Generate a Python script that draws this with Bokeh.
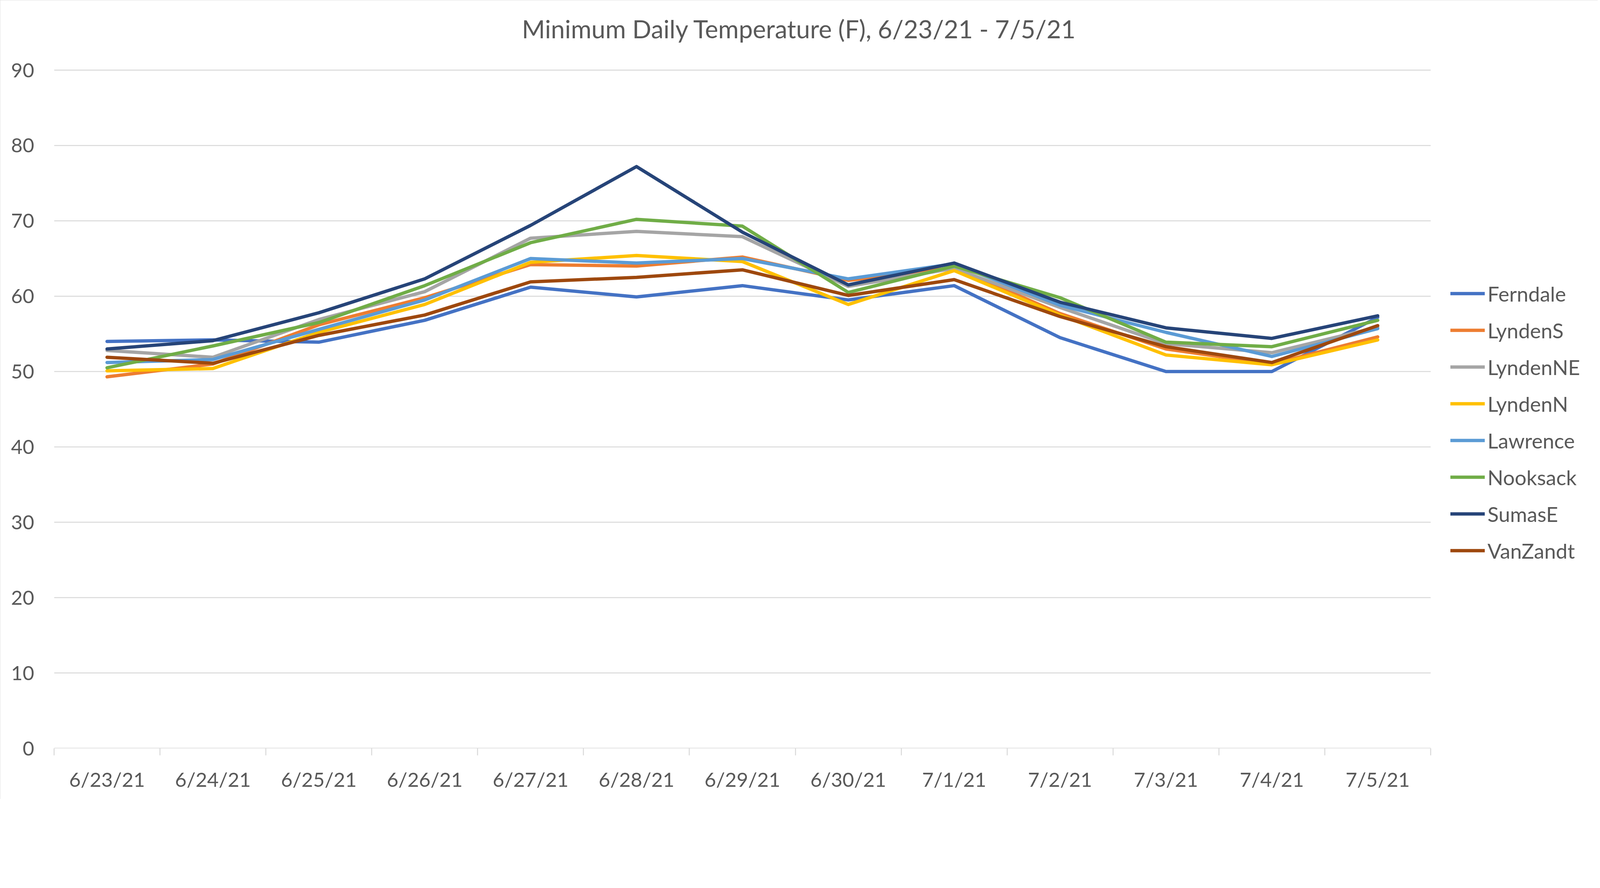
from bokeh.plotting import figure
from bokeh.models import (Legend, LegendItem, FixedTicker, Range1d, Label)
from bokeh.embed import file_html
from bokeh.resources import INLINE

dates = ["6/23/21", "6/24/21", "6/25/21", "6/26/21", "6/27/21", "6/28/21", "6/29/21",
         "6/30/21", "7/1/21", "7/2/21", "7/3/21", "7/4/21", "7/5/21"]

ferndale = [54.0, 54.2, 53.9, 56.8, 61.2, 59.9, 61.4, 59.5, 61.4, 54.5, 50.0, 50.0, 57.2]
lyndens = [49.3, 51.0, 56.2, 59.8, 64.2, 64.0, 65.2, 62.1, 63.8, 57.7, 53.0, 51.0, 54.6]
lyndenne = [52.8, 51.9, 56.9, 60.6, 67.7, 68.6, 67.9, 61.3, 63.7, 58.5, 53.7, 52.5, 55.9]
lyndenn = [50.1, 50.4, 55.2, 58.9, 64.5, 65.4, 64.6, 58.9, 63.4, 57.5, 52.2, 50.9, 54.2]
lawrence = [51.2, 51.6, 55.6, 59.5, 65.0, 64.4, 65.0, 62.3, 64.3, 58.8, 55.2, 52.0, 55.7]
nooksack = [50.5, 53.4, 56.5, 61.4, 67.1, 70.2, 69.3, 60.5, 64.0, 59.8, 53.9, 53.3, 56.8]
sumase = [53.0, 54.1, 57.8, 62.3, 69.4, 77.2, 68.5, 61.5, 64.4, 59.2, 55.8, 54.4, 57.4]
vanzandt = [51.9, 51.1, 54.8, 57.5, 61.9, 62.5, 63.5, 60.1, 62.2, 57.3, 53.3, 51.2, 56.1]

series_names = ["Ferndale", "LyndenS", "LyndenNE", "LyndenN", "Lawrence", "Nooksack", "SumasE", "VanZandt"]
series_values = [ferndale, lyndens, lyndenne, lyndenn, lawrence, nooksack, sumase, vanzandt]
colors = ["#4472C4", "#ED7D31", "#A5A5A5", "#FFC000", "#5B9BD5", "#70AD47", "#264478", "#9E480E"]

y_ticks = list(range(0, 100, 10))
title_text = "Minimum Daily Temperature (F), 6/23/21 - 7/5/21"
TEXT = "#595959"
GRID = "#D9D9D9"
FONT = "Lato"

n = len(dates)
x_lo, x_hi = -0.5, n - 0.5          # category band of the chart
W, H = 4090, 2045
LEFT, RIGHT, TOP, BOTTOM = 138, 10, 10, 130
band_px = 3524                      # pixel width of the category band
px_per_x = band_px / (x_hi - x_lo)
px_per_y = 1736 / 90.0
x_end = x_hi + (W - LEFT - RIGHT - band_px) / px_per_x
y_end = (H - TOP - BOTTOM) / px_per_y

p = figure(width=W, height=H, output_backend="svg", toolbar_location=None,
           x_range=Range1d(x_lo, x_end), y_range=Range1d(0, y_end),
           min_border_left=LEFT, min_border_right=RIGHT, min_border_top=TOP, min_border_bottom=BOTTOM)
p.outline_line_color = None
p.background_fill_color = "white"
p.border_fill_color = "white"
p.styles = {"outline": "3px solid #D9D9D9", "outline-offset": "-3px"}

# horizontal gridlines and the category axis line, limited to the category band
grid_y = y_ticks[1:]
p.segment(x0=[x_lo] * len(grid_y), x1=[x_hi] * len(grid_y), y0=grid_y, y1=grid_y,
          line_color=GRID, line_width=2.5)
p.segment(x0=[x_lo], x1=[x_hi], y0=[0], y1=[0], line_color=GRID, line_width=3)

xs = list(range(n))
renderers = []
for name, vals, c in zip(series_names, series_values, colors):
    r = p.line(xs, vals, line_color=c, line_width=8.5, line_join="round", line_cap="round")
    renderers.append(r)

# x axis
xa = p.xaxis[0]
xa.ticker = FixedTicker(ticks=xs, minor_ticks=[i - 0.5 for i in range(n + 1)])
xa.major_label_overrides = {i: d for i, d in enumerate(dates)}
xa.major_tick_line_color = None
xa.major_tick_out = 0
xa.major_tick_in = 0
xa.minor_tick_line_color = GRID
xa.minor_tick_line_width = 2.5
xa.minor_tick_out = 18
xa.minor_tick_in = 0
xa.axis_line_color = None
xa.major_label_text_font = FONT
xa.major_label_text_font_size = "51px"
xa.major_label_text_color = TEXT
xa.major_label_standoff = 30

# y axis
ya = p.yaxis[0]
ya.ticker = FixedTicker(ticks=y_ticks)
ya.axis_line_color = None
ya.major_tick_line_color = None
ya.minor_tick_line_color = None
ya.major_label_text_font = FONT
ya.major_label_text_font_size = "51px"
ya.major_label_text_color = TEXT
ya.major_label_standoff = 45

p.xgrid.grid_line_color = None
p.ygrid.grid_line_color = None

# title
title_x = (2046 - LEFT) / px_per_x + x_lo
title_y = 90 + (179 - 73) / px_per_y
p.add_layout(Label(x=title_x, y=title_y, text=title_text, text_align="center",
                   text_baseline="middle", text_font=FONT, text_font_size="64px",
                   text_color=TEXT))

legend = Legend(items=[LegendItem(label=nm, renderers=[r]) for nm, r in zip(series_names, renderers)],
                location=(3575, 474), orientation="vertical")
legend.border_line_color = None
legend.background_fill_alpha = 0
legend.label_text_font = FONT
legend.label_text_font_size = "53px"
legend.label_text_color = TEXT
legend.glyph_width = 88
legend.glyph_height = 64
legend.label_height = 64
legend.spacing = 30
legend.padding = 0
legend.margin = 0
legend.label_standoff = 7
p.add_layout(legend, "center")

open("out.html", "w").write(file_html(p, INLINE))
